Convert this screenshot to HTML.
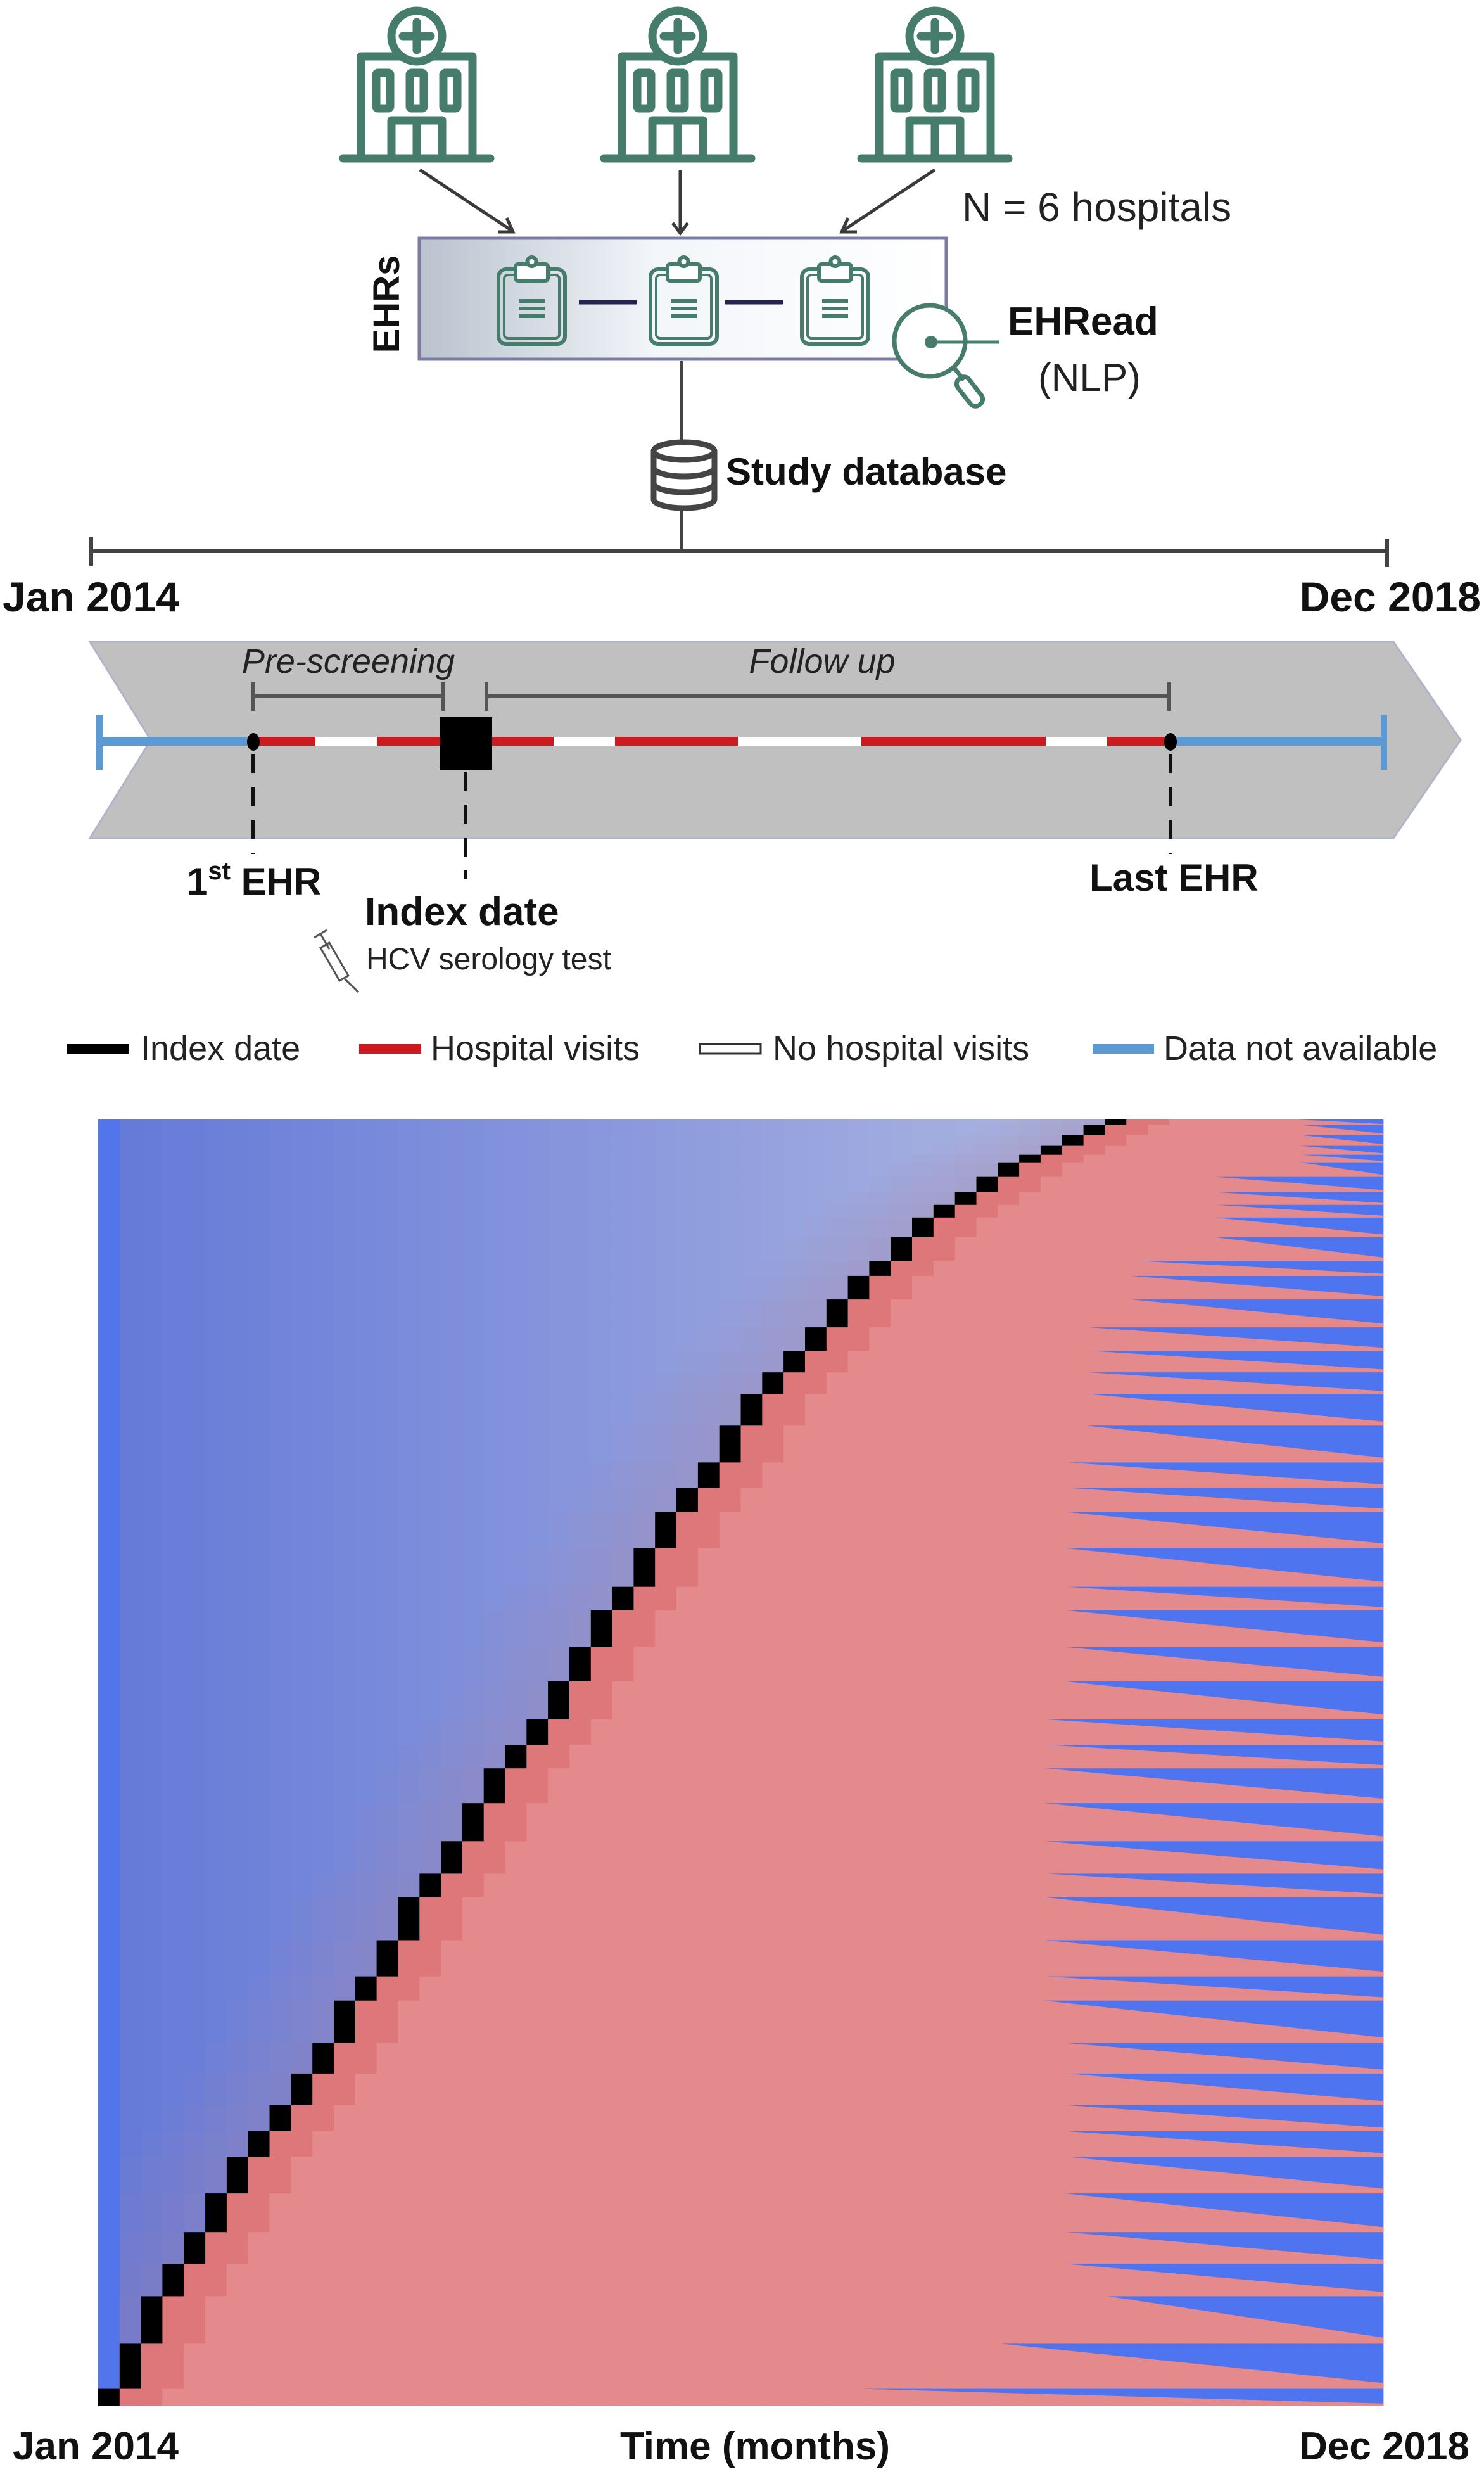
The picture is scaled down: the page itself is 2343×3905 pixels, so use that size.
<!DOCTYPE html>
<html><head><meta charset="utf-8">
<style>
html,body{margin:0;padding:0;background:#fff;}
svg{display:block;}
text{font-family:"Liberation Sans Narrow","Liberation Sans",sans-serif;}
</style></head>
<body>
<svg id="fig" width="2343" height="3905" viewBox="0 0 2343 3905" xmlns="http://www.w3.org/2000/svg">
<defs>
  <linearGradient id="boxgrad" x1="0" x2="1" y1="0" y2="0">
    <stop offset="0" stop-color="#b9c2ce"/><stop offset="0.45" stop-color="#f3f6fa"/><stop offset="1" stop-color="#ffffff"/>
  </linearGradient>
  <g id="hospital" fill="none" stroke="#467c6b" stroke-width="13" stroke-linecap="round" stroke-linejoin="round">
    <line x1="4" y1="245" x2="236" y2="245"/>
    <polyline points="32,245 32,84 208,84 208,245"/>
    <circle cx="120" cy="52" r="40" fill="#fff"/>
    <line x1="120" y1="30" x2="120" y2="74"/><line x1="98" y1="52" x2="142" y2="52"/>
    <rect x="56" y="110" width="22" height="56" rx="3"/>
    <rect x="109" y="110" width="22" height="56" rx="3"/>
    <rect x="162" y="110" width="22" height="56" rx="3"/>
    <polyline points="80,245 80,185 160,185 160,245"/><line x1="120" y1="185" x2="120" y2="245"/>
  </g>
  <g id="clip" fill="none" stroke="#467c6b" stroke-width="6" stroke-linejoin="round">
    <rect x="0" y="22" width="105" height="118" rx="12"/>
    <rect x="9" y="31" width="87" height="100" rx="6" stroke-width="4"/>
    <rect x="27" y="14" width="51" height="26" rx="4" fill="#fff"/>
    <circle cx="52.5" cy="10" r="7" fill="#fff"/>
    <line x1="32" y1="72" x2="73" y2="72"/><line x1="32" y1="84" x2="73" y2="84"/><line x1="32" y1="96" x2="73" y2="96"/>
  </g>
</defs>

<use href="#hospital" x="538" y="5"/>
<use href="#hospital" x="950" y="5"/>
<use href="#hospital" x="1356" y="5"/>
<g stroke="#3a3a3a" stroke-width="5" fill="none">
  <line x1="663" y1="268" x2="808" y2="364"/><polyline points="786,366 810,366 800,344"/>
  <line x1="1074" y1="269" x2="1074" y2="366"/><polyline points="1062,352 1074,368 1086,352"/>
  <line x1="1476" y1="268" x2="1331" y2="364"/><polyline points="1353,366 1329,366 1339,344"/>
</g>
<text x="1519" y="349" font-size="64" fill="#222">N = 6 hospitals</text>

<rect x="662" y="376" width="832" height="191" fill="url(#boxgrad)" stroke="#7c7ca2" stroke-width="5"/>
<text transform="translate(630,480) rotate(-90)" text-anchor="middle" font-size="58" font-weight="bold" fill="#111">EHRs</text>
<use href="#clip" x="787" y="403"/>
<use href="#clip" x="1027" y="403"/>
<use href="#clip" x="1266" y="403"/>
<line x1="914" y1="477" x2="1005" y2="477" stroke="#24244e" stroke-width="7"/>
<line x1="1145" y1="477" x2="1236" y2="477" stroke="#24244e" stroke-width="7"/>
<g fill="none" stroke="#467c6b" stroke-width="7">
  <circle cx="1468" cy="538" r="56" fill="#fff"/>
  <circle cx="1470" cy="540" r="10" fill="#467c6b" stroke="none"/>
  <line x1="1470" y1="540" x2="1578" y2="540" stroke-width="5"/>
  <line x1="1506" y1="580" x2="1522" y2="600"/>
  <rect x="1520" y="592" width="22" height="52" rx="10" transform="rotate(-38 1531 618)"/>
</g>
<text x="1591" y="528" font-size="62" font-weight="bold" fill="#111">EHRead</text>
<text x="1639" y="617" font-size="62" fill="#222">(NLP)</text>

<line x1="1076" y1="570" x2="1076" y2="700" stroke="#444" stroke-width="6"/>
<g fill="none" stroke="#444" stroke-width="9">
  <ellipse cx="1080" cy="712" rx="48" ry="14"/>
  <path d="M1032,712 V788 A48,14 0 0 0 1128,788 V712"/>
  <path d="M1032,738 A48,14 0 0 0 1128,738"/>
  <path d="M1032,763 A48,14 0 0 0 1128,763"/>
</g>
<text x="1146" y="765" font-size="60" font-weight="bold" fill="#111">Study database</text>
<line x1="1076" y1="802" x2="1076" y2="870" stroke="#444" stroke-width="6"/>

<g stroke="#444" stroke-width="6">
  <line x1="144" y1="870" x2="2190" y2="870"/>
  <line x1="144" y1="848" x2="144" y2="893"/><line x1="2190" y1="850" x2="2190" y2="895"/>
</g>
<text x="4" y="965" font-size="66" font-weight="bold" fill="#111">Jan 2014</text>
<text x="2338" y="965" text-anchor="end" font-size="66" font-weight="bold" fill="#111">Dec 2018</text>

<polygon points="142,1013 2200,1013 2306,1168 2200,1323 142,1323 238,1168" fill="#c0c0c0" stroke="#b0b4c8" stroke-width="3"/>
<text x="550" y="1062" text-anchor="middle" font-size="54" font-style="italic" fill="#222">Pre-screening</text>
<text x="1298" y="1062" text-anchor="middle" font-size="54" font-style="italic" fill="#222">Follow up</text>
<g stroke="#555" stroke-width="6">
  <line x1="400" y1="1099" x2="700" y2="1099"/><line x1="400" y1="1077" x2="400" y2="1122"/><line x1="700" y1="1077" x2="700" y2="1122"/>
  <line x1="768" y1="1099" x2="1846" y2="1099"/><line x1="768" y1="1077" x2="768" y2="1122"/><line x1="1846" y1="1077" x2="1846" y2="1122"/>
</g>
<g stroke-width="14">
  <line x1="157" y1="1170" x2="400" y2="1170" stroke="#5b9bd5"/>
  <line x1="157" y1="1128" x2="157" y2="1215" stroke="#5b9bd5" stroke-width="10"/>
  <line x1="400" y1="1170" x2="1848" y2="1170" stroke="#ffffff"/>
  <line x1="400" y1="1170" x2="498" y2="1170" stroke="#cc1a1f"/>
  <line x1="595" y1="1170" x2="700" y2="1170" stroke="#cc1a1f"/>
  <line x1="777" y1="1170" x2="874" y2="1170" stroke="#cc1a1f"/>
  <line x1="971" y1="1170" x2="1165" y2="1170" stroke="#cc1a1f"/>
  <line x1="1360" y1="1170" x2="1651" y2="1170" stroke="#cc1a1f"/>
  <line x1="1748" y1="1170" x2="1848" y2="1170" stroke="#cc1a1f"/>
  <line x1="1848" y1="1170" x2="2185" y2="1170" stroke="#5b9bd5"/>
  <line x1="2185" y1="1128" x2="2185" y2="1215" stroke="#5b9bd5" stroke-width="10"/>
</g>
<rect x="695" y="1132" width="82" height="83" fill="#000"/>
<ellipse cx="400" cy="1171" rx="10" ry="14" fill="#000"/>
<ellipse cx="1848" cy="1171" rx="10" ry="14" fill="#000"/>
<g stroke="#111" stroke-width="6" stroke-dasharray="30,22">
  <line x1="400" y1="1190" x2="400" y2="1348"/>
  <line x1="735" y1="1218" x2="735" y2="1388"/>
  <line x1="1848" y1="1190" x2="1848" y2="1348"/>
</g>
<text x="295" y="1412" font-size="60" font-weight="bold" fill="#111">1<tspan font-size="40" dy="-24">st</tspan><tspan dy="24"> EHR</tspan></text>
<text x="576" y="1460" font-size="62" font-weight="bold" fill="#111">Index date</text>
<text x="1720" y="1406" font-size="60" font-weight="bold" fill="#111">Last EHR</text>
<g stroke="#555" stroke-width="3" fill="none">
  <rect x="520" y="1488" width="16" height="60" transform="rotate(-30 528 1518)"/>
  <line x1="496" y1="1480" x2="516" y2="1468"/>
  <line x1="506" y1="1474" x2="520" y2="1498"/>
  <line x1="543" y1="1544" x2="566" y2="1566"/>
</g>
<text x="578" y="1530" font-size="48" fill="#222">HCV serology test</text>

<g>
  <rect x="105" y="1648" width="98" height="15" fill="#000"/>
  <text x="222" y="1673" font-size="54" fill="#222">Index date</text>
  <rect x="567" y="1648" width="98" height="15" fill="#cc1a1f"/>
  <text x="680" y="1673" font-size="54" fill="#222">Hospital visits</text>
  <rect x="1105" y="1648" width="96" height="15" fill="#fff" stroke="#333" stroke-width="3"/>
  <text x="1220" y="1673" font-size="54" fill="#222">No hospital visits</text>
  <rect x="1725" y="1648" width="97" height="15" fill="#5b9bd5"/>
  <text x="1837" y="1673" font-size="54" fill="#222">Data not available</text>
</g>

<g id="heatmap"></g>

<text x="20" y="3882" font-size="62" font-weight="bold" fill="#111">Jan 2014</text>
<text x="1192" y="3882" text-anchor="middle" font-size="62" font-weight="bold" fill="#111">Time (months)</text>
<text x="2320" y="3882" text-anchor="end" font-size="62" font-weight="bold" fill="#111">Dec 2018</text>
</svg>

<script>
// Heatmap data: patient groups ordered by index month (bottom = earliest)
const nMonths = 60;
const indexMonth = [0,1,2,3,4,5,6,7,8,9,10,11,12,13,14,15,16,17,18,19,20,21,22,23,24,25,26,27,28,29,30,31,32,33,34,35,36,37,38,39,40,41,42,43,44,45,46,47];
const groupSize = [27,71,75,51,50,61,58,40,41,50,48,67,38,57,68,37,51,60,55,37,40,60,54,58,37,61,57,38,40,58,50,34,34,37,44,37,24,37,31,20,20,24,23,12,14,17,16,8];
const lastDataStart = [35,42,47,45,45,45,45,45,45,45,45,44,44,44,44,44,44,44,44,44,44,45,45,45,45,45,45,45,45,46,46,46,46,46,48,48,48,52,52,52,52,52,56,56,56,56,56,56];

const X0 = 155, X1 = 2184, Y0 = 1767, Y1 = 3797;
const totalRows = groupSize.reduce((a, b) => a + b, 0);
function xScale(m) { return X0 + (X1 - X0) * m / nMonths; }
function yScale(r) { return Y1 - (Y1 - Y0) * r / totalRows; }

const NS = 'http://www.w3.org/2000/svg';
const hm = document.getElementById('heatmap');
function hex(c) { return [1,3,5].map(i => parseInt(c.substr(i, 2), 16)); }
function mixArr(a, b, t) { return a.map((v, i) => v + (b[i] - v) * t); }
function rgb(a) { return 'rgb(' + a.map(v => Math.round(v)).join(',') + ')'; }
function addRect(x, y, w, h, fill, name) {
  const r = document.createElementNS(NS, 'rect');
  r.setAttribute('x', x.toFixed(1)); r.setAttribute('y', y.toFixed(1));
  r.setAttribute('width', (w + 0.6).toFixed(1)); r.setAttribute('height', (h + 0.6).toFixed(1));
  r.setAttribute('fill', fill);
  
  
  hm.appendChild(r);
}
const BLUE_DARK = hex('#6479d8'), BLUE_LIGHT = hex('#a7b1e0'), PURPLE = hex('#a87f9f');
let cum = 0;
for (let g = 0; g < groupSize.length; g++) {
  const yb = yScale(cum), yt = yScale(cum + groupSize[g]);
  cum += groupSize[g];
  const h = yb - yt, idx = indexMonth[g];
  for (let m = 0; m < nMonths; m++) {
    const x = xScale(m), w = xScale(m + 1) - x;
    if (m < idx) {
      let fill;
      if (m === 0) fill = '#5275ec';
      else {
        let c = mixArr(BLUE_DARK, BLUE_LIGHT, Math.min(1, m / 42));
        const d = idx - m;
        if (d <= 5) c = mixArr(c, PURPLE, 0.28 * (6 - d) / 5);
        fill = rgb(c);
      }
      addRect(x, yt, w, h, fill, 'pre-index-cell');
    } else if (m === idx) {
      addRect(x, yt, w, h, '#000000', 'index-date-cell');
    } else {
      const fill = (m - idx <= 2) ? '#de777a' : '#e48a8c';
      addRect(x, yt, w, h, fill, 'follow-up-cell');
    }
  }
  const p = document.createElementNS(NS, 'polygon');
  const xs = xScale(lastDataStart[g]);
  p.setAttribute('points', xs.toFixed(1) + ',' + yt.toFixed(1) + ' ' + X1 + ',' + yt.toFixed(1) + ' ' + X1 + ',' + (yb - h * 0.12).toFixed(1));
  p.setAttribute('fill', '#4f74ef');
  
  
  hm.appendChild(p);
}
</script>
</body></html>
